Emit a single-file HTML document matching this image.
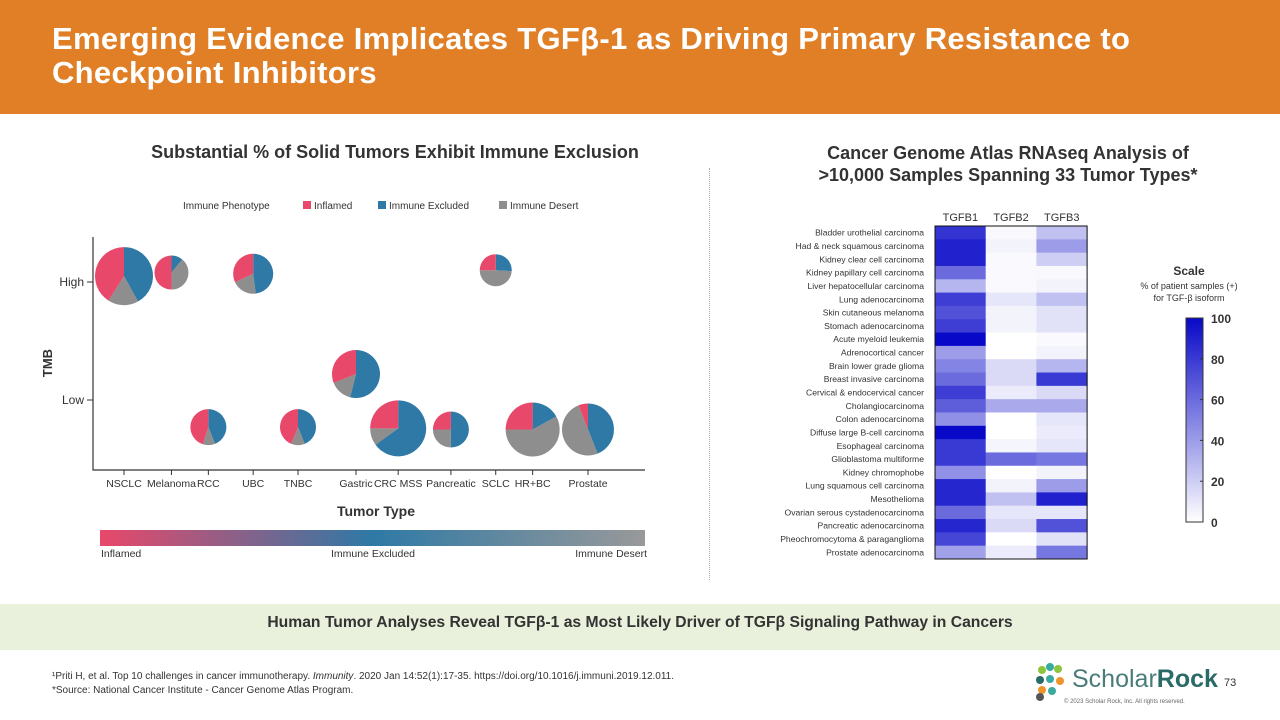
<!DOCTYPE html>
<html><head><meta charset="utf-8"><style>
body{margin:0;width:1280px;height:720px;overflow:hidden;background:#fff;font-family:"Liberation Sans",sans-serif;position:relative}
.abs{position:absolute}
#hdr{left:0;top:0;width:1280px;height:114px;background:#E07F26}
#title{left:52px;top:22px;color:#fff;font-weight:bold;font-size:31px;line-height:34px;letter-spacing:0.3px}
.sub{font-weight:bold;color:#333;font-size:18px;text-align:center}
#band{left:0;top:604px;width:1280px;height:46px;background:#E9F1DC}
#bandtxt{left:0;top:614px;width:1280px;text-align:center;font-weight:bold;font-size:15.7px;color:#333}
#foot{left:52px;top:670px;font-size:10px;color:#333;line-height:14px}
</style></head><body>
<div id="hdr" class="abs"></div>
<div id="title" class="abs">Emerging Evidence Implicates TGFβ-1 as Driving Primary Resistance to<br>Checkpoint Inhibitors</div>
<div class="abs sub" style="left:100px;top:142px;width:590px">Substantial % of Solid Tumors Exhibit Immune Exclusion</div>
<div class="abs sub" style="left:758px;top:142px;width:500px;line-height:22px">Cancer Genome Atlas RNAseq Analysis of<br>&gt;10,000 Samples Spanning 33 Tumor Types*</div>
<div class="abs" style="left:709px;top:168px;height:412px;border-left:1px dotted #aaa"></div>
<svg class="abs" style="left:0;top:0" width="1280" height="720" id="svg"></svg>
<div id="band" class="abs"></div>
<div id="bandtxt" class="abs">Human Tumor Analyses Reveal TGFβ-1 as Most Likely Driver of TGFβ Signaling Pathway in Cancers</div>
<div id="foot" class="abs">¹Priti H, et al. Top 10 challenges in cancer immunotherapy. <i>Immunity</i>. 2020 Jan 14:52(1):17-35. https://doi.org/10.1016/j.immuni.2019.12.011.<br>*Source: National Cancer Institute - Cancer Genome Atlas Program.</div>
<div class="abs" style="left:1072px;top:665px;font-size:25px;color:#4a7d7a">Scholar<b style="color:#2a6b68">Rock</b></div>
<div class="abs" style="left:1224px;top:677px;font-size:11px;color:#333">73</div>
<div class="abs" style="left:1064px;top:699px;font-size:6px;color:#666">© 2023 Scholar Rock, Inc. All rights reserved.</div>
<script>
const tumors=["NSCLC","Melanoma","RCC","UBC","TNBC","Gastric","CRC MSS","Pancreatic","SCLC","HR+BC","Prostate"];
const xPos=[0,9,16,24.5,33,44,52,62,70.5,77.5,88];
const tmb=[1.05,1.08,-0.23,1.07,-0.23,0.22,-0.24,-0.25,1.1,-0.25,-0.25];
const sizes=[29,17,18,20,18,24,28,18,16,27,26];
const inflamed=[0.41,0.5,0.45,0.32,0.44,0.31,0.25,0.25,0.25,0.25,0.06];
const excluded=[0.42,0.11,0.44,0.48,0.44,0.54,0.65,0.5,0.26,0.17,0.44];
const desert=[0.17,0.39,0.11,0.2,0.12,0.15,0.1,0.25,0.49,0.58,0.5];
const rows=["Bladder urothelial  carcinoma","Had & neck squamous  carcinoma","Kidney clear cell carcinoma","Kidney papillary  cell carcinoma","Liver hepatocellular  carcinoma","Lung adenocarcinoma","Skin cutaneous  melanoma","Stomach adenocarcinoma","Acute myeloid  leukemia","Adrenocortical cancer","Brain lower grade glioma","Breast invasive  carcinoma","Cervical & endocervical cancer","Cholangiocarcinoma","Colon adenocarcinoma","Diffuse large B-cell carcinoma","Esophageal  carcinoma","Glioblastoma  multiforme","Kidney chromophobe","Lung squamous  cell carcinoma","Mesothelioma","Ovarian serous cystadenocarcinoma","Pancreatic adenocarcinoma","Pheochromocytoma  & paraganglioma","Prostate adenocarcinoma"];
const isoforms=["TGFB1","TGFB2","TGFB3"];
const tgfb1=[82,90,90,60,30,78,70,78,100,40,50,60,78,65,45,100,80,80,45,88,88,60,88,75,38];
const tgfb2=[3,5,2,2,2,10,5,5,0,0,15,15,8,35,0,0,4,60,0,5,25,10,15,0,8];
const tgfb3=[25,40,20,3,5,25,12,12,2,5,30,80,15,35,10,8,10,55,5,40,90,10,70,12,55];
const scaleTicks=[0,20,40,60,80,100];
const NS="http://www.w3.org/2000/svg",svg=document.getElementById('svg');
function el(t,a,p){const e=document.createElementNS(NS,t);for(const k in a)e.setAttribute(k,a[k]);(p||svg).appendChild(e);return e}
function txt(x,y,s,a){const e=el('text',Object.assign({x:x,y:y,'font-family':'Liberation Sans, sans-serif',fill:'#333'},a||{}));e.textContent=s;return e}
const RED='#E8486A',BLUE='#2E79A6',GREY='#8E8E8E';
txt(183,209,"Immune Phenotype",{'font-size':10});
[["Inflamed",RED,303],["Immune Excluded",BLUE,378],["Immune Desert",GREY,499]].forEach(d=>{const r=el('rect',{x:d[2],y:201,width:8,height:8,fill:d[1]});const t=txt(d[2]+11,209,d[0],{'font-size':10});});
const X=v=>124+v*(588-124)/88, Y=v=>400-v*118;
el('path',{d:'M93,237V470H645',stroke:'#333',fill:'none','stroke-width':1.2});
[[1,"High"],[0,"Low"]].forEach(d=>{el('line',{x1:87,x2:93,y1:Y(d[0]),y2:Y(d[0]),stroke:'#333'});txt(84,Y(d[0])+4,d[1],{'font-size':12,'text-anchor':'end'});});
const yt=txt(52,363,"TMB",{'font-size':13,'font-weight':'bold',transform:'rotate(-90 52 363)','text-anchor':'middle'});

const xt=txt(376,516,"Tumor Type",{'font-size':14,'font-weight':'bold','text-anchor':'middle'});

tumors.forEach((n,i)=>{const x=X(xPos[i]);el('line',{x1:x,x2:x,y1:470,y2:475,stroke:'#333'});
const t=txt(x,487,n,{'font-size':10.5,'text-anchor':'middle'});
const cx=x,cy=Y(tmb[i]),r=sizes[i];const g=el('g',{});
let a=0;[[excluded[i],BLUE],[desert[i],GREY],[inflamed[i],RED]].forEach(s=>{const a0=a,a1=a+s[0]*2*Math.PI;a=a1;
const p=(ang)=>[cx+r*Math.sin(ang),cy-r*Math.cos(ang)];const [x0,y0]=p(a0),[x1,y1]=p(a1);
el('path',{d:`M${cx},${cy}L${x0},${y0}A${r},${r} 0 ${a1-a0>Math.PI?1:0} 1 ${x1},${y1}Z`,fill:s[1]},g);});});
const defs=el('defs',{});const lg=el('linearGradient',{id:'gb'},defs);
[[0,RED],[0.5,BLUE],[1,'#999']].forEach(s=>el('stop',{offset:s[0],'stop-color':s[1]},lg));
const gb=el('rect',{x:100,y:530,width:545,height:16,fill:'url(#gb)'});
txt(101,557,"Inflamed",{'font-size':10.5});txt(373,557,"Immune Excluded",{'font-size':10.5,'text-anchor':'middle'});txt(647,557,"Immune Desert",{'font-size':10.5,'text-anchor':'end'});
const col=v=>{const t=v/100;const c=(a,b)=>Math.round(a+(b-a)*t);return `rgb(${c(255,8)},${c(255,8)},${c(255,200)})`};
const HX=935,HY=226,CW=50.7,RH=13.32;
isoforms.forEach((n,j)=>txt(HX+CW*j+CW/2,221,n,{'font-size':11,'text-anchor':'middle'}));
const series=[tgfb1,tgfb2,tgfb3];
rows.forEach((n,i)=>{const t=txt(924,HY+RH*i+RH/2+3,n,{'font-size':8.6,'text-anchor':'end'});
series.forEach((s,j)=>{const r=el('rect',{x:HX+CW*j,y:HY+RH*i,width:CW+0.5,height:RH+0.5,fill:col(s[i])});});});
el('rect',{x:HX,y:HY,width:CW*3,height:RH*25,fill:'none',stroke:'#111','stroke-width':1});
txt(1189,275,"Scale",{'font-size':12,'font-weight':'bold','text-anchor':'middle'});
txt(1189,289,"% of patient samples (+)",{'font-size':9,'text-anchor':'middle'});
txt(1189,301,"for TGF-β isoform",{'font-size':9,'text-anchor':'middle'});
const lg2=el('linearGradient',{id:'sc',x1:0,y1:1,x2:0,y2:0},defs);el('stop',{offset:0,'stop-color':col(0)},lg2);el('stop',{offset:1,'stop-color':col(100)},lg2);
const SY=v=>522-v*2.04;
const sb=el('rect',{x:1186,y:SY(100),width:17,height:204,fill:'url(#sc)',stroke:'#333'});
scaleTicks.forEach(v=>{el('line',{x1:1200,x2:1203,y1:SY(v),y2:SY(v),stroke:'#333'});txt(1211,SY(v)+5,String(v),{'font-size':12,'font-weight':'bold'});});
[[1042,670,'#8cc63f'],[1050,667,'#3aa99f'],[1058,669,'#8cc63f'],[1040,680,'#2a6b68'],[1050,679,'#3aa99f'],[1060,681,'#f0932b'],[1042,690,'#f0932b'],[1052,691,'#3aa99f'],[1040,697,'#555']].forEach(d=>el('circle',{cx:d[0],cy:d[1],r:4,fill:d[2]}));
</script>
</body></html>
